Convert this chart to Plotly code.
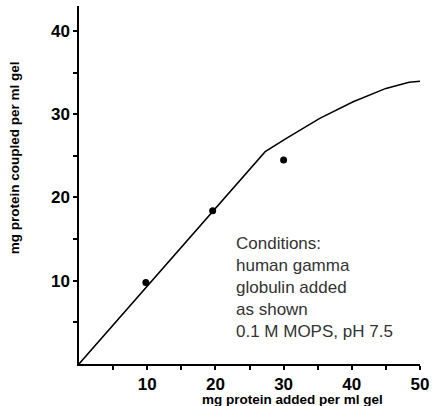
import plotly.graph_objects as go

# Measured data points
pt_x = [9.8, 19.6, 30.0, 50.5]
pt_y = [9.8, 18.4, 24.5, 34.0]

# Fitted curve
curve_x = [0, 10, 20, 27.3, 30.4, 35.3, 40.2, 45.0, 48.4, 50.5]
curve_y = [0, 9.3, 18.6, 25.5, 27.1, 29.5, 31.5, 33.1, 33.85, 34.0]

x_tickvals = [5, 10, 15, 20, 25, 30, 35, 40, 45, 50]
x_ticktext = ["", "10", "", "20", "", "30", "", "40", "", "50"]
y_tickvals = [5, 10, 15, 20, 25, 30, 35, 40]
y_ticktext = ["", "10", "", "20", "", "30", "", "40"]

x_title = "mg protein added per ml gel"
y_title = "mg protein coupled per ml gel"
note = "Conditions:<br>human gamma<br>globulin added<br>as shown<br>0.1 M MOPS, pH 7.5"

FONT = "Liberation Sans, Arial, Helvetica, sans-serif"

fig = go.Figure()
fig.add_trace(go.Scatter(x=curve_x, y=curve_y, mode="lines",
                         line=dict(color="black", width=1.5),
                         hoverinfo="skip", cliponaxis=False))
fig.add_trace(go.Scatter(x=pt_x, y=pt_y, mode="markers",
                         marker=dict(color="black", size=7),
                         cliponaxis=False))

axis_common = dict(showline=True, linecolor="black", linewidth=1.5,
                   ticks="outside", ticklen=4, tickwidth=1.5, tickcolor="black",
                   showgrid=False, zeroline=False, tickmode="array",
                   tickfont=dict(family=FONT, size=17, color="black", weight="bold"))

fig.update_xaxes(range=[0, 50], tickvals=x_tickvals, ticktext=x_ticktext, **axis_common)
fig.update_yaxes(range=[0, 43], tickvals=y_tickvals, ticktext=y_ticktext, **axis_common)

fig.add_annotation(text=y_title, xref="paper", yref="paper", x=-0.19, y=0.575,
                   textangle=-90, showarrow=False, xanchor="center", yanchor="middle",
                   font=dict(family=FONT, size=13.5, color="black", weight="bold"))
fig.add_annotation(text=x_title, xref="paper", yref="paper", x=0.625, y=-0.098,
                   showarrow=False, xanchor="center", yanchor="middle",
                   font=dict(family=FONT, size=13.5, color="black", weight="bold"))
fig.add_annotation(text=note, xref="x", yref="y", x=22.7, y=9.2,
                   showarrow=False, xanchor="left", yanchor="middle", align="left",
                   font=dict(family=FONT, size=17, color="#333"))

fig.update_layout(width=435, height=406, showlegend=False,
                  plot_bgcolor="white", paper_bgcolor="white",
                  margin=dict(l=79, r=12, t=6, b=42))

fig.write_html("out.html", config={"displayModeBar": False},
               post_script="document.body.style.margin='0';")
